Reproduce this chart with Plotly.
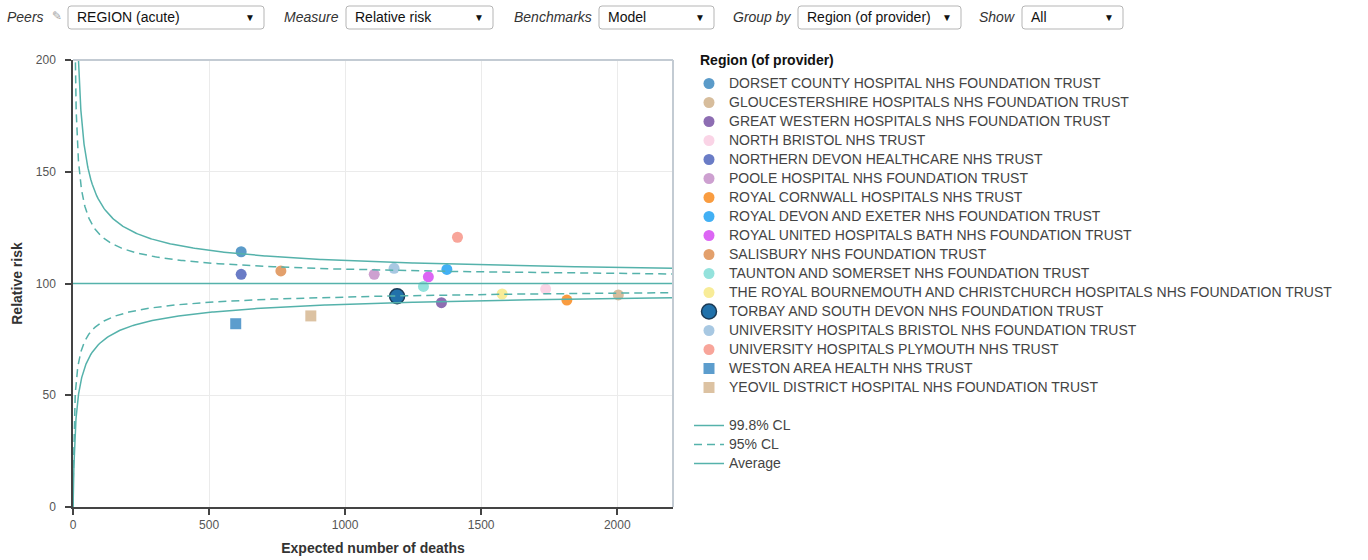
import numpy as np
import plotly.graph_objects as go

# ---- data -------------------------------------------------------------
providers = [
    "DORSET COUNTY HOSPITAL NHS FOUNDATION TRUST",
    "GLOUCESTERSHIRE HOSPITALS NHS FOUNDATION TRUST",
    "GREAT WESTERN HOSPITALS NHS FOUNDATION TRUST",
    "NORTH BRISTOL NHS TRUST",
    "NORTHERN DEVON HEALTHCARE NHS TRUST",
    "POOLE HOSPITAL NHS FOUNDATION TRUST",
    "ROYAL CORNWALL HOSPITALS NHS TRUST",
    "ROYAL DEVON AND EXETER NHS FOUNDATION TRUST",
    "ROYAL UNITED HOSPITALS BATH NHS FOUNDATION TRUST",
    "SALISBURY NHS FOUNDATION TRUST",
    "TAUNTON AND SOMERSET NHS FOUNDATION TRUST",
    "THE ROYAL BOURNEMOUTH AND CHRISTCHURCH HOSPITALS NHS FOUNDATION TRUST",
    "TORBAY AND SOUTH DEVON NHS FOUNDATION TRUST",
    "UNIVERSITY HOSPITALS BRISTOL NHS FOUNDATION TRUST",
    "UNIVERSITY HOSPITALS PLYMOUTH NHS TRUST",
    "WESTON AREA HEALTH NHS TRUST",
    "YEOVIL DISTRICT HOSPITAL NHS FOUNDATION TRUST",
]
expected_deaths = [618, 2004, 1354, 1737, 618, 1107, 1815, 1374, 1306,
                   764, 1288, 1577, 1191, 1180, 1413, 598, 874]
relative_risk = [114.2, 94.9, 91.4, 97.5, 104.1, 104.1, 92.6, 106.3, 103.0,
                 105.6, 98.7, 95.3, 94.3, 106.8, 120.7, 82.0, 85.5]
marker_colors = ["#5b9bc9", "#d7bd9c", "#8d6db2", "#fad4e6", "#6a7cc6",
                 "#cda0d0", "#f99c40", "#42b0f4", "#dc66f4", "#e3a06c",
                 "#94e2dc", "#f8ec98", "#2171aa", "#a8c8e2", "#f8a59a",
                 "#5c9dcd", "#dcc2a2"]
marker_symbols = ["circle"] * 15 + ["square"] * 2
highlighted = "TORBAY AND SOUTH DEVON NHS FOUNDATION TRUST"
legend_heading = "Region (of provider)"

benchmark = 100.0          # average relative risk
z_998 = 3.09               # 99.8% control limit
z_95 = 1.96                # 95% control limit

x_max = 2205
y_max = 200

# ---- geometry ---------------------------------------------------------
W, H = 1368, 560
L, T = 73, 60
PW, PH = 600, 447
FONT = "Arial, Liberation Sans, sans-serif"
LINE = "#55b2ab"


def px(x):
    return (x - L) / PW


def py(y):
    return (T + PH - y) / PH


fig = go.Figure()

# ---- provider markers -------------------------------------------------
for name, e, rr, col, sym in zip(providers, expected_deaths, relative_risk,
                                 marker_colors, marker_symbols):
    big = name == highlighted
    fig.add_trace(go.Scatter(
        x=[e], y=[rr], mode="markers",
        name=f'<span style="font-size:14px">{name}</span>',
        legendgroup="providers",
        marker=dict(color=col, symbol=sym, size=15 if big else 11,
                    line=dict(color="#1b3a55" if big else col,
                              width=1.5 if big else 0)),
        hovertemplate=f"{name}<br>Expected: %{{x}}<br>RR: %{{y}}<extra></extra>",
    ))

# ---- funnel control limits --------------------------------------------
e_grid = np.concatenate([np.geomspace(0.02, 60, 400), np.linspace(60, x_max, 400)[1:]])


def limits(z):
    return benchmark * np.exp(z / np.sqrt(e_grid)), benchmark * np.exp(-z / np.sqrt(e_grid))


for label, z, dash in [("99.8% CL", z_998, "solid"), ("95% CL", z_95, "8px,5px")]:
    upper, lower = limits(z)
    fig.add_trace(go.Scatter(
        x=e_grid, y=upper, mode="lines",
        name=f'<span style="font-size:14px">{label}</span>',
        legendgroup="limits", line=dict(color=LINE, width=1.5, dash=dash),
        hoverinfo="skip"))
    fig.add_trace(go.Scatter(
        x=np.concatenate([[0], e_grid]), y=np.concatenate([[0], lower]),
        mode="lines", showlegend=False,
        legendgroup="limits", line=dict(color=LINE, width=1.5, dash=dash),
        hoverinfo="skip"))

fig.add_trace(go.Scatter(
    x=[0, x_max], y=[benchmark, benchmark], mode="lines",
    name='<span style="font-size:14px">Average</span>',
    legendgroup="limits", line=dict(color=LINE, width=1.5),
    hoverinfo="skip"))

# ---- plot frame (top/right borders) -----------------------------------
shapes = [
    dict(type="line", xref="paper", yref="paper", x0=0, x1=1, y0=1, y1=1,
         line=dict(color="#c3cbd3", width=2)),
    dict(type="line", xref="paper", yref="paper", x0=1, x1=1, y0=0, y1=1,
         line=dict(color="#c3cbd3", width=2)),
]
annotations = [
    dict(xref="paper", yref="paper", x=px(698), y=py(60),
         xanchor="left", yanchor="middle", showarrow=False,
         text=f"<b>{legend_heading}</b>",
         font=dict(family=FONT, size=14, color="#111")),
]

# ---- control bar ------------------------------------------------------
controls = [
    ("Peers", 46, 68, 264, "REGION (acute)"),
    ("Measure", 341, 346, 493, "Relative risk"),
    ("Benchmarks", 594, 599, 714, "Model"),
    ("Group by", 794, 798, 961, "Region (of provider)"),
    ("Show", 1017, 1022, 1123, "All"),
]
by0, by1, r = 6, 29, 3


def rounded_box(x0, x1, y0, y1, rad):
    rx = rad / PW
    ry = rad / PH
    a, b = px(x0), px(x1)
    top, bot = py(y0), py(y1)
    return (f"M {a+rx},{top} L {b-rx},{top} Q {b},{top} {b},{top-ry} "
            f"L {b},{bot+ry} Q {b},{bot} {b-rx},{bot} L {a+rx},{bot} "
            f"Q {a},{bot} {a},{bot+ry} L {a},{top-ry} Q {a},{top} {a+rx},{top} Z")


for label, lab_right, bx0, bx1, value in controls:
    shapes.append(dict(type="path", xref="paper", yref="paper",
                       path=rounded_box(bx0, bx1, by0, by1, r),
                       line=dict(color="#b5b5b5", width=1), fillcolor="white"))
    annotations.append(dict(xref="paper", yref="paper", x=px(lab_right), y=py(17.5),
                            xanchor="right", yanchor="middle", showarrow=False,
                            text=f"<i>{label}</i>",
                            font=dict(family=FONT, size=14, color="#333")))
    annotations.append(dict(xref="paper", yref="paper", x=px(bx0 + 7), y=py(17.5),
                            xanchor="left", yanchor="middle", showarrow=False,
                            text=value, font=dict(family=FONT, size=14, color="#111")))
    annotations.append(dict(xref="paper", yref="paper", x=px(bx1 - 14), y=py(18),
                            xanchor="center", yanchor="middle", showarrow=False,
                            text="▼", font=dict(family=FONT, size=10, color="#111")))

annotations.append(dict(xref="paper", yref="paper", x=px(56.5), y=py(16),
                        xanchor="center", yanchor="middle", showarrow=False,
                        text="✎", font=dict(family="DejaVu Sans", size=12, color="#a0a0a0")))

fig.update_layout(
    width=W, height=H,
    margin=dict(l=L, r=W - L - PW, t=T, b=H - T - PH, autoexpand=False),
    paper_bgcolor="white", plot_bgcolor="white",
    font=dict(family=FONT, size=12, color="#444"),
    shapes=shapes, annotations=annotations,
    showlegend=True,
    legend=dict(
        x=px(689), xanchor="left", y=py(69), yanchor="top",
        bgcolor="rgba(0,0,0,0)", borderwidth=0, maxheight=520,
        font=dict(family=FONT, size=12, color="#444"),
        traceorder="grouped", tracegroupgap=19, groupclick="toggleitem",
    ),
    xaxis=dict(
        range=[0, x_max], tickvals=[0, 500, 1000, 1500, 2000],
        showline=True, linecolor="#444", linewidth=1.5,
        ticks="outside", ticklen=6, tickwidth=1.5, tickcolor="#444",
        showgrid=True, gridcolor="#ebebeb", gridwidth=1, zeroline=False,
        tickfont=dict(family=FONT, size=12, color="#555"),
        title=dict(text="<b>Expected number of deaths</b>", standoff=12,
                   font=dict(family=FONT, size=14, color="#333")),
    ),
    yaxis=dict(
        range=[0, y_max], tickvals=[0, 50, 100, 150, 200],
        showline=True, linecolor="#444", linewidth=1.5,
        ticks="outside", ticklen=6, tickwidth=1.5, tickcolor="#444",
        ticklabelstandoff=7,
        showgrid=True, gridcolor="#ebebeb", gridwidth=1, zeroline=False,
        tickfont=dict(family=FONT, size=12, color="#555"),
        title=dict(text="<b>Relative risk</b>", standoff=10,
                   font=dict(family=FONT, size=14, color="#333")),
    ),
)

fig.write_html("out.html")
